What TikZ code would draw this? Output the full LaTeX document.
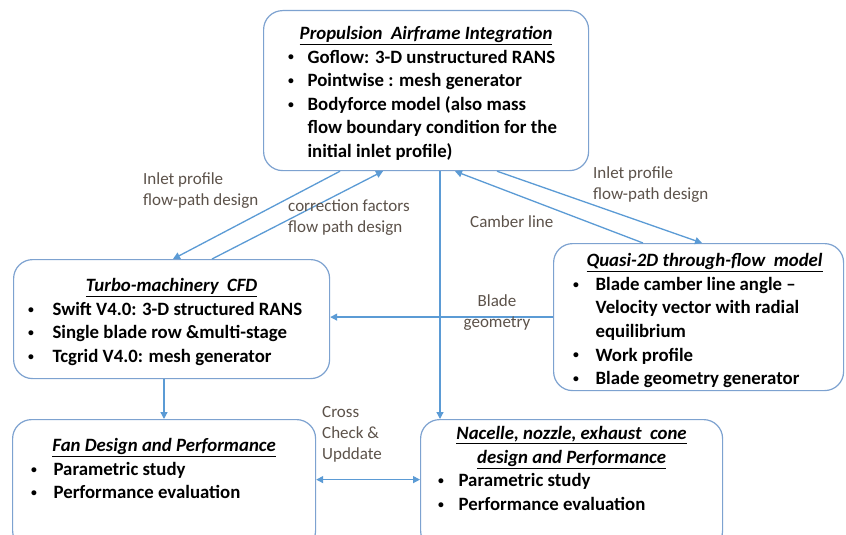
\documentclass[tikz,border=0pt]{standalone}
\usepackage{fontspec}
\setmainfont{Carlito}
\usetikzlibrary{arrows.meta}

\definecolor{bleuboite}{RGB}{125,162,208}
\definecolor{bleufleche}{RGB}{91,155,213}
\definecolor{grisetiq}{RGB}{92,82,74}

\newlength{\retrait}
\newlength{\ecart}
\newcommand{\titre}[2][0pt]{\par\centerline{\hspace*{#1}\rule{0pt}{15pt}\textit{\underline{#2}}}}
\newcommand{\puce}[1]{\par\noindent\hspace*{\retrait}\makebox[\ecart][l]{\raisebox{2.2pt}{\scalebox{0.62}{\textbullet}}}#1}
\newcommand{\suite}[1]{\par\noindent\hspace*{\retrait}\hspace*{\ecart}#1}
% largeur, hauteur, marge du haut, texte
\newcommand{\contenu}[4]{\begin{minipage}[t][#2][t]{#1}\fontsize{18.8}{23.6}\selectfont\bfseries\vspace*{#3}#4\end{minipage}}

\begin{document}
\begin{tikzpicture}[x=1pt, y=-1pt]
			\tikzset{boite/.style={draw=bleuboite, line width=1.2pt, rounded corners=19pt, inner sep=0pt, anchor=north west},
			fleche/.style={draw=bleufleche, line width=1.3pt, -{Triangle[length=7pt, width=7pt]}},
			etiq/.style={text=grisetiq, font=\fontsize{17}{21}\selectfont, align=left, inner sep=0pt}};

			\useasboundingbox[fill=white] (0,0) rectangle (846,535);

			\node[boite] (pai) at (263,10) {\contenu{325pt}{160pt}{14pt}{%
				\setlength{\retrait}{24.5pt}\setlength{\ecart}{19.5pt}%
				\titre{Propulsion\ \ Airframe Integration}
				\puce{Goflow: 3-D unstructured RANS}
				\puce{Pointwise : mesh generator}
				\puce{Bodyforce model (also mass}
				\suite{flow boundary condition for the}
				\suite{initial inlet profile)}}};

			\node[boite] (cfd) at (13,259) {\contenu{316pt}{119pt}{17pt}{%
				\setlength{\retrait}{14.5pt}\setlength{\ecart}{24.5pt}%
				\titre{Turbo-machinery\ \ CFD}
				\puce{Swift V4.0: 3-D structured RANS}
				\puce{Single blade row \&multi-stage}
				\puce{Tcgrid V4.0: mesh generator}}};

			\node[boite] (quasi) at (553,243) {\contenu{290pt}{147pt}{8pt}{%
				\setlength{\retrait}{19.5pt}\setlength{\ecart}{22.5pt}%
				\titre[12pt]{Quasi-2D through-flow\ \ model}
				\puce{Blade camber line angle --}
				\suite{Velocity vector with radial}
				\suite{equilibrium}
				\puce{Work profile}
				\puce{Blade geometry generator}}};

			\node[boite] (fan) at (12,419) {\contenu{303pt}{130pt}{17pt}{%
				\setlength{\retrait}{18.5pt}\setlength{\ecart}{22.5pt}%
				\titre{Fan Design and Performance}
				\puce{Parametric study}
				\puce{Performance evaluation}}};

			\node[boite] (nac) at (420,419) {\contenu{302pt}{130pt}{5pt}{%
				\setlength{\retrait}{17.5pt}\setlength{\ecart}{20.5pt}%
				\titre{Nacelle, nozzle, exhaust\ \ cone}
				\titre{design and Performance}
				\puce{Parametric study}
				\puce{Performance evaluation}}};

			\draw[fleche] ([xshift=77pt]pai.south west) -- ([xshift=160pt]cfd.north west);
			\draw[fleche] ([xshift=199pt]cfd.north west) -- ([xshift=120pt]pai.south west);
			\draw[fleche] ([xshift=234pt]pai.south west) -- ([xshift=149pt]quasi.north west);
			\draw[fleche] ([xshift=90pt]quasi.north west) -- ([xshift=192pt]pai.south west);
			\draw[fleche] ([xshift=177pt]pai.south west) -- ([xshift=20pt]nac.north west);
			\draw[fleche] (quasi.west) -- (quasi.west -| cfd.east);
			\draw[fleche] ([xshift=151pt]cfd.south west) -- ([xshift=152pt]fan.north west);
			\draw[fleche, {Triangle[length=7pt, width=7pt]}-{Triangle[length=7pt, width=7pt]}] ([yshift=5pt]fan.east) -- ([yshift=5pt]nac.west);

			\node[etiq, anchor=west] (inletg) at (143,191) {Inlet profile\\flow-path design};
			\node[etiq, anchor=west] (corr) at (288,218) {correction factors\\flow path design};
			\node[etiq, anchor=west] (camber) at (470,222) {Camber line};
			\node[etiq, anchor=west] (inletd) at (593,185) {Inlet profile\\flow-path design};
			\node[etiq, align=center] (blade) at (497,313) {Blade\\geometry};
			\node[etiq, anchor=west] (cross) at (322,434) {Cross\\Check \&\\Upddate};

		\end{tikzpicture}
\end{document}
